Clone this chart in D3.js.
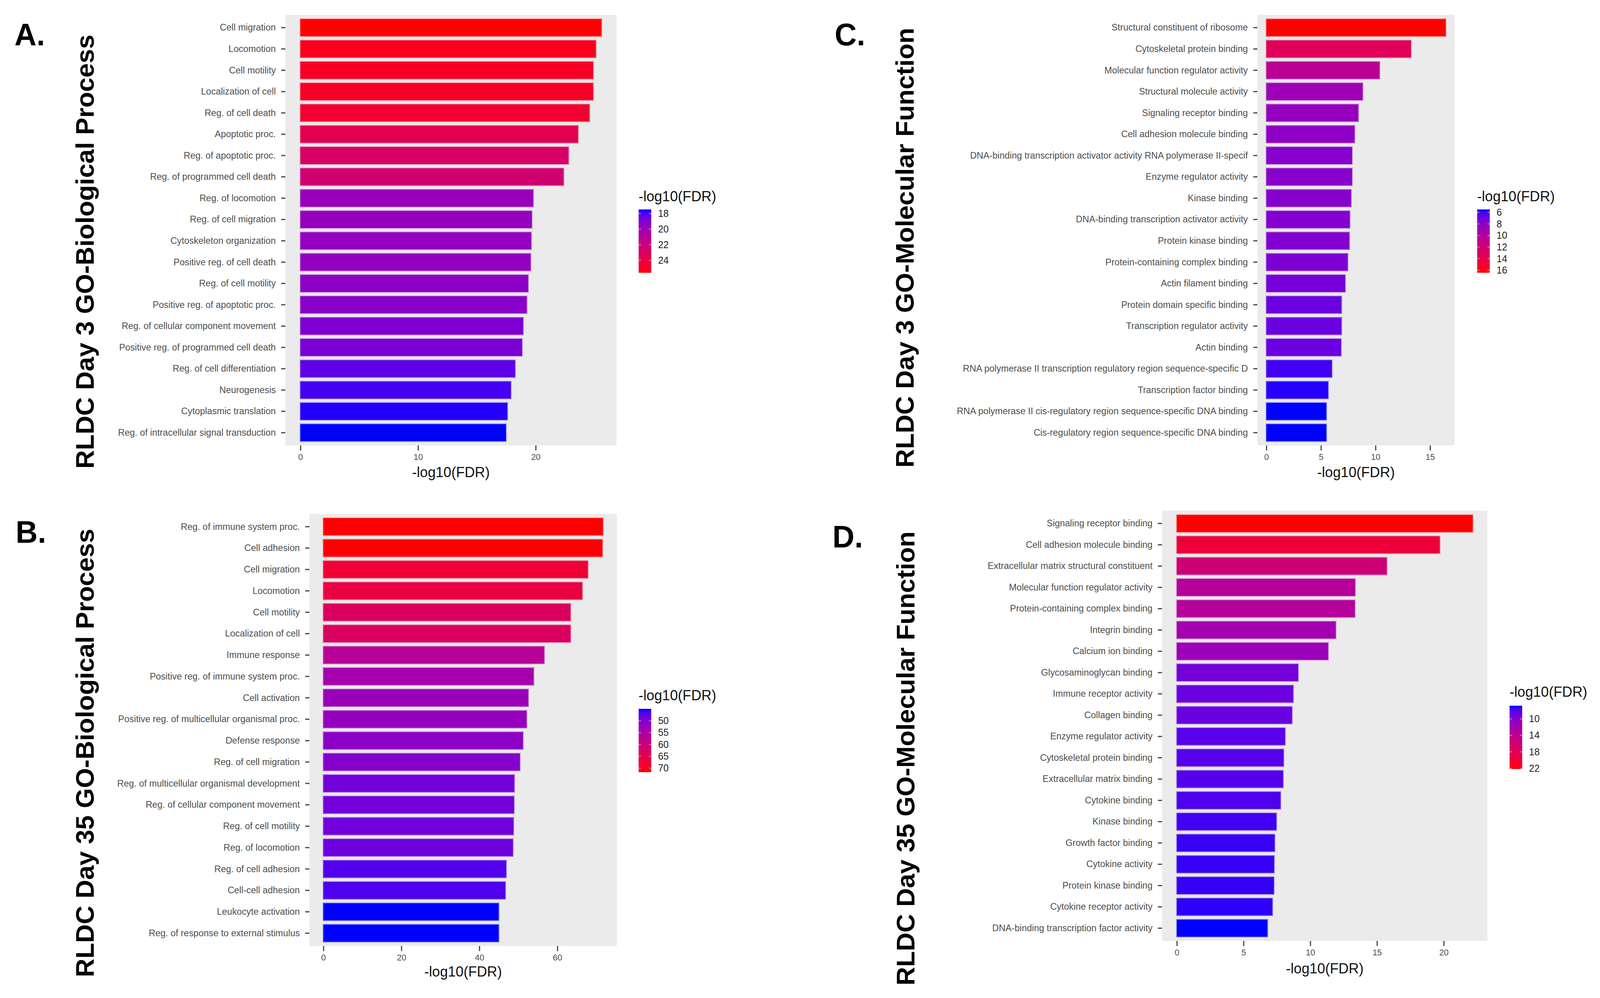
<!DOCTYPE html>
<html>
<head>
<meta charset="utf-8">
<title>RLDC GO enrichment</title>
<script src="https://d3js.org/d3.v7.min.js"></script>
<style>
  html, body { margin: 0; padding: 0; background: #fff; overflow: hidden; }
  #chart { width: 100vw; height: 100vh; }
  svg text { font-family: "Liberation Sans", Arial, sans-serif; }
</style>
</head>
<body>
<div id="chart"></div>
<script>
// ---- data ----
const termsA = ["Cell migration", "Locomotion", "Cell motility", "Localization of cell", "Reg. of cell death",
  "Apoptotic proc.", "Reg. of apoptotic proc.", "Reg. of programmed cell death", "Reg. of locomotion",
  "Reg. of cell migration", "Cytoskeleton organization", "Positive reg. of cell death", "Reg. of cell motility",
  "Positive reg. of apoptotic proc.", "Reg. of cellular component movement", "Positive reg. of programmed cell death",
  "Reg. of cell differentiation", "Neurogenesis", "Cytoplasmic translation", "Reg. of intracellular signal transduction"];
const valuesA = [25.59, 25.11, 24.88, 24.88, 24.57, 23.6, 22.79, 22.37, 19.79, 19.67,
  19.62, 19.57, 19.36, 19.24, 18.93, 18.84, 18.25, 17.89, 17.59, 17.47];

const termsB = ["Reg. of immune system proc.", "Cell adhesion", "Cell migration", "Locomotion", "Cell motility",
  "Localization of cell", "Immune response", "Positive reg. of immune system proc.", "Cell activation",
  "Positive reg. of multicellular organismal proc.", "Defense response", "Reg. of cell migration",
  "Reg. of multicellular organismal development", "Reg. of cellular component movement", "Reg. of cell motility",
  "Reg. of locomotion", "Reg. of cell adhesion", "Cell-cell adhesion", "Leukocyte activation",
  "Reg. of response to external stimulus"];
const valuesB = [71.68, 71.54, 67.81, 66.38, 63.37, 63.37, 56.63, 53.91, 52.54, 52.11,
  51.18, 50.39, 48.96, 48.89, 48.75, 48.6, 46.88, 46.67, 44.95, 44.95];

const termsC = ["Structural constituent of ribosome", "Cytoskeletal protein binding", "Molecular function regulator activity",
  "Structural molecule activity", "Signaling receptor binding", "Cell adhesion molecule binding",
  "DNA-binding transcription activator activity RNA polymerase II-specif", "Enzyme regulator activity", "Kinase binding",
  "DNA-binding transcription activator activity", "Protein kinase binding", "Protein-containing complex binding",
  "Actin filament binding", "Protein domain specific binding", "Transcription regulator activity", "Actin binding",
  "RNA polymerase II transcription regulatory region sequence-specific D", "Transcription factor binding",
  "RNA polymerase II cis-regulatory region sequence-specific DNA binding", "Cis-regulatory region sequence-specific DNA binding"];
const valuesC = [16.43, 13.25, 10.37, 8.82, 8.42, 8.08, 7.85, 7.85, 7.76, 7.64,
  7.6, 7.45, 7.22, 6.88, 6.88, 6.84, 6.0, 5.66, 5.49, 5.49];

const termsD = ["Signaling receptor binding", "Cell adhesion molecule binding", "Extracellular matrix structural constituent",
  "Molecular function regulator activity", "Protein-containing complex binding", "Integrin binding", "Calcium ion binding",
  "Glycosaminoglycan binding", "Immune receptor activity", "Collagen binding", "Enzyme regulator activity",
  "Cytoskeletal protein binding", "Extracellular matrix binding", "Cytokine binding", "Kinase binding",
  "Growth factor binding", "Cytokine activity", "Protein kinase binding", "Cytokine receptor activity",
  "DNA-binding transcription factor activity"];
const valuesD = [22.17, 19.7, 15.73, 13.36, 13.34, 11.91, 11.34, 9.09, 8.72, 8.63,
  8.11, 8.0, 7.96, 7.77, 7.46, 7.33, 7.29, 7.27, 7.16, 6.79];

const xTicksA = [0, 10, 20];
const xTicksB = [0, 20, 40, 60];
const xTicksC = [0, 5, 10, 15];
const xTicksD = [0, 5, 10, 15, 20];

const legendTicksA = [18, 20, 22, 24];
const legendTicksB = [50, 55, 60, 65, 70];
const legendTicksC = [6, 8, 10, 12, 14, 16];
const legendTicksD = [10, 14, 18, 22];

const panelLetters = ["A.", "B.", "C.", "D."];
const panelTitles = ["RLDC Day 3 GO-Biological Process", "RLDC Day 35 GO-Biological Process",
  "RLDC Day 3 GO-Molecular Function", "RLDC Day 35 GO-Molecular Function"];
const axisTitle = "-log10(FDR)";

// ---- layout of each panel (pixels in a 4194 x 2554 frame) ----
const layouts = [
  { left: 748, right: 1616, top: 38, bottom: 1140, letter: [38, 116], ytitle: [246, 644], titleY: 1208, legend: [1674, 536, 515] },
  { left: 811, right: 1617, top: 1315, bottom: 2421, letter: [41, 1389], ytitle: [246, 1927], titleY: 2486, legend: [1674, 1814, 1792] },
  { left: 3296, right: 3813, top: 38, bottom: 1140, letter: [2188, 116], ytitle: [2395, 634], titleY: 1208, legend: [3872, 536, 515] },
  { left: 3046, right: 3899, top: 1307, bottom: 2408, letter: [2182, 1401], ytitle: [2397, 1941], titleY: 2478, legend: [3957, 1806, 1783] }
];

const panels = [
  { terms: termsA, values: valuesA, xTicks: xTicksA, legendTicks: legendTicksA },
  { terms: termsB, values: valuesB, xTicks: xTicksB, legendTicks: legendTicksB },
  { terms: termsC, values: valuesC, xTicks: xTicksC, legendTicks: legendTicksC },
  { terms: termsD, values: valuesD, xTicks: xTicksD, legendTicks: legendTicksD }
];

const W = 4194, H = 2554;
// the real viewport can be narrower than 4194, so scale the frame to fit it
const svg = d3.select("#chart").append("svg")
  .attr("viewBox", `0 0 ${W} ${H}`)
  .attr("preserveAspectRatio", "none")
  .attr("width", "100%").attr("height", "100%")
  .style("display", "block");

const defs = svg.append("defs");

panels.forEach((p, i) => {
  const L = layouts[i];
  const vmin = d3.min(p.values), vmax = d3.max(p.values);

  // ggplot-like expansion: 5% of the 0..max range on both sides
  const x = d3.scaleLinear()
    .domain([-0.05 * vmax, 1.05 * vmax])
    .range([L.left, L.right]);

  const y = d3.scaleBand()
    .domain(p.terms)
    .range([L.top, L.bottom])
    .paddingInner(0.2)
    .paddingOuter(0.2);

  const color = d3.scaleLinear()
    .domain([vmin, vmax])
    .range(["blue", "red"])
    .interpolate(d3.interpolateLab);

  const g = svg.append("g");

  // panel background
  g.append("rect")
    .attr("x", L.left).attr("y", L.top)
    .attr("width", L.right - L.left).attr("height", L.bottom - L.top)
    .attr("fill", "#EBEBEB");

  // bars (soft outline like the source)
  g.selectAll(".bar")
    .data(p.terms.map((t, k) => ({ term: t, value: p.values[k] })))
    .enter().append("rect")
    .attr("class", "bar")
    .attr("x", x(0))
    .attr("y", d => y(d.term))
    .attr("width", d => x(d.value) - x(0))
    .attr("height", y.bandwidth())
    .attr("fill", d => color(d.value))
    .attr("stroke", d => color(d.value))
    .attr("stroke-opacity", 0.35)
    .attr("stroke-width", 4);

  // y axis (term labels)
  const yAxis = g.append("g")
    .attr("transform", `translate(${L.left},0)`)
    .call(d3.axisLeft(y).tickSize(11).tickPadding(14));
  yAxis.select(".domain").remove();
  yAxis.selectAll("line").attr("stroke", "#444").attr("stroke-width", 3);
  yAxis.selectAll("text")
    .attr("fill", "#4D4D4D")
    .style("font-size", "24px");

  // x axis
  const xAxis = g.append("g")
    .attr("transform", `translate(0,${L.bottom})`)
    .call(d3.axisBottom(x).tickValues(p.xTicks).tickSize(13).tickPadding(8));
  xAxis.select(".domain").remove();
  xAxis.selectAll("line").attr("stroke", "#444").attr("stroke-width", 3);
  xAxis.selectAll("text")
    .attr("fill", "#4D4D4D")
    .style("font-size", "22px");

  // x axis title
  g.append("text")
    .attr("x", (L.left + L.right) / 2)
    .attr("y", L.titleY)
    .attr("dy", "0.35em")
    .attr("text-anchor", "middle")
    .attr("fill", "#111")
    .style("font-size", "37px")
    .text(axisTitle);

  // panel letter
  svg.append("text")
    .attr("x", L.letter[0]).attr("y", L.letter[1])
    .attr("fill", "#000")
    .style("font-size", "80px")
    .style("font-weight", "bold")
    .text(panelLetters[i]);

  // rotated panel title
  svg.append("text")
    .attr("transform", `translate(${L.ytitle[0]},${L.ytitle[1]}) rotate(-90)`)
    .attr("text-anchor", "middle")
    .attr("fill", "#000")
    .style("font-size", "66px")
    .style("font-weight", "bold")
    .text(panelTitles[i]);

  // colour bar legend (low value at top)
  const [lx, ltop, ltitle] = L.legend;
  const barW = 33, barH = 162;
  const ls = d3.scaleLinear().domain([vmin, vmax]).range([ltop, ltop + barH]);

  const gradId = "grad" + i;
  const grad = defs.append("linearGradient")
    .attr("id", gradId)
    .attr("x1", 0).attr("y1", 0).attr("x2", 0).attr("y2", 1);
  d3.range(0, 1.0001, 0.05).forEach(t => {
    grad.append("stop")
      .attr("offset", t)
      .attr("stop-color", color(vmin + t * (vmax - vmin)));
  });

  const lg = svg.append("g");
  lg.append("text")
    .attr("x", lx).attr("y", ltitle)
    .attr("fill", "#111")
    .style("font-size", "37px")
    .text(axisTitle);

  lg.append("rect")
    .attr("x", lx).attr("y", ltop)
    .attr("width", barW).attr("height", barH)
    .attr("fill", `url(#${gradId})`);

  // white ticks inside the colour bar
  p.legendTicks.forEach(v => {
    [[lx, lx + 6], [lx + barW - 6, lx + barW]].forEach(([a, b]) => {
      lg.append("line")
        .attr("x1", a).attr("x2", b)
        .attr("y1", ls(v)).attr("y2", ls(v))
        .attr("stroke", "#fff").attr("stroke-opacity", 0.7).attr("stroke-width", 1.5);
    });
  });

  const la = lg.append("g")
    .attr("transform", `translate(${lx + barW},0)`)
    .call(d3.axisRight(ls).tickValues(p.legendTicks).tickSize(0).tickPadding(18));
  la.select(".domain").remove();
  la.selectAll("text")
    .attr("fill", "#222")
    .style("font-size", "25px");
});
</script>
</body>
</html>
